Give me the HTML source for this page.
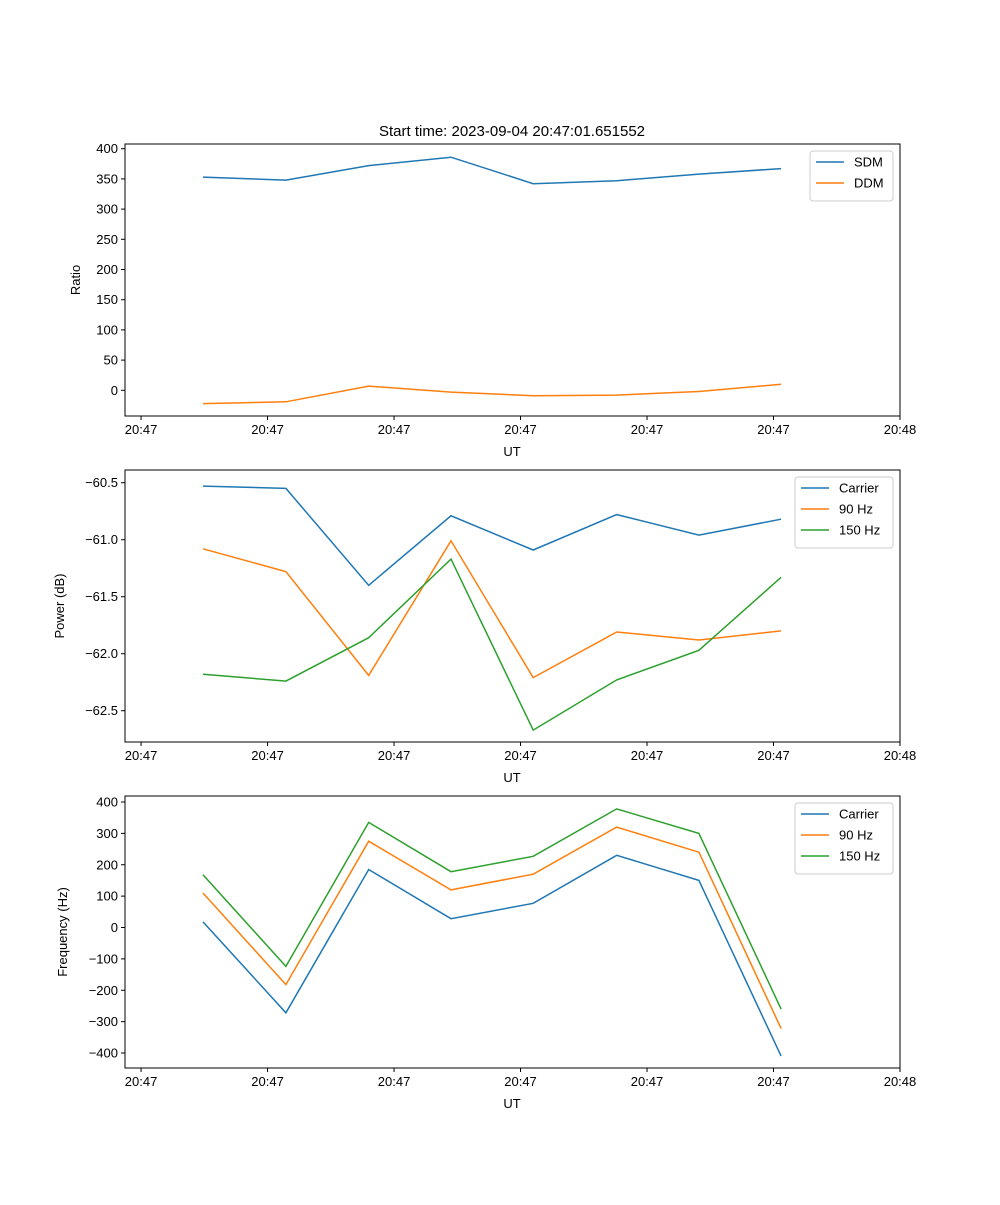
<!DOCTYPE html>
<html><head><meta charset="utf-8"><style>
body{margin:0;background:#fff;}
svg text{font-family:"Liberation Sans","DejaVu Sans",sans-serif;font-size:13px;fill:#000;}
</style></head><body>
<svg id="fig" width="1000" height="1200" xmlns="http://www.w3.org/2000/svg">
<rect width="1000" height="1200" fill="#fff"/>
<text x="512" y="136" text-anchor="middle" style="font-size:15px">Start time: 2023-09-04 20:47:01.651552</text>
</svg>
<script>
const times=[0.49,1.145,1.80,2.45,3.10,3.76,4.41,5.06];
const xTickVals=[0,1,2,3,4,5,6];
const xTickLabels=["20:47","20:47","20:47","20:47","20:47","20:47","20:48"];
const sdm=[353,348,372,386,342,347,358,367];
const ddm=[-22,-19,7,-3,-9,-8,-2,10];
const pCarrier=[-60.53,-60.55,-61.40,-60.79,-61.09,-60.78,-60.96,-60.82];
const p90=[-61.08,-61.28,-62.19,-61.01,-62.21,-61.81,-61.88,-61.80];
const p150=[-62.18,-62.24,-61.86,-61.17,-62.67,-62.23,-61.97,-61.33];
const fCarrier=[18,-272,185,28,77,230,150,-410];
const f90=[110,-182,275,120,170,320,240,-322];
const f150=[168,-124,335,178,227,378,300,-260];
const ratioTicks=[0,50,100,150,200,250,300,350,400];
const powerTicks=[-62.5,-62.0,-61.5,-61.0,-60.5];
const freqTicks=[-400,-300,-200,-100,0,100,200,300,400];

const NS="http://www.w3.org/2000/svg";
const svg=document.getElementById('fig');
const L=125,R=900,X0=-0.127,X1=6.0;
function xs(v){return L+(v-X0)/(X1-X0)*(R-L);}
function mk(tag,attrs,parent){const e=document.createElementNS(NS,tag);for(const k in attrs)e.setAttribute(k,attrs[k]);(parent||svg).appendChild(e);return e;}

function panel(name,top,bot,yv0,yp0,yv1,yp1,yTicks,fmt,ylabel,series,legend){
  const ys=v=>yp0+(v-yv0)/(yv1-yv0)*(yp1-yp0);
  const g=mk('g',{});
  
  
  series.forEach(s=>{
    const pts=s.data.map((v,i)=>xs(times[i]).toFixed(1)+','+ys(v).toFixed(1)).join(' ');
    const pl=mk('polyline',{points:pts,fill:'none',stroke:s.color,'stroke-width':1.5},g);
    
    
  });
  const fr=mk('rect',{x:L,y:top,width:R-L,height:bot-top,fill:'none',stroke:'#000','stroke-width':1},g);
  
  
  xTickVals.forEach((v,i)=>{
    const x=xs(v);
    mk('line',{x1:x,x2:x,y1:bot,y2:bot+4,stroke:'#000'},g);
    const t=mk('text',{x:x,y:bot+18,'text-anchor':'middle'},g);
    t.textContent=xTickLabels[i];
    
    
  });
  const xl=mk('text',{x:512,y:bot+40,'text-anchor':'middle'},g);
  xl.textContent='UT';
  
  
  yTicks.forEach(v=>{
    const y=ys(v);
    mk('line',{x1:L-4,x2:L,y1:y,y2:y,stroke:'#000'},g);
    const t=mk('text',{x:L-7,y:y+4.5,'text-anchor':'end'},g);
    t.textContent=fmt(v);
    
    
  });
  const cy=(top+bot)/2;
  const yl=mk('text',{x:0,y:0,'text-anchor':'middle',transform:`translate(${legend.yl},${cy}) rotate(-90)`},g);
  yl.textContent=ylabel;
  
  
  const lg=mk('g',{},g);
  
  
  const lh=8+series.length*21;
  mk('rect',{x:legend.x,y:top+7,width:R-7-legend.x,height:lh,rx:3,fill:'#fff',stroke:'#ccc'},lg);
  series.forEach((s,i)=>{
    const y=top+18+i*21;
    mk('line',{x1:legend.x+6,x2:legend.x+34,y1:y,y2:y,stroke:s.color,'stroke-width':1.5},lg);
    const t=mk('text',{x:legend.x+44,y:y+4.5},lg);
    t.textContent=s.label;
    
    
  });
}
const B='#1f77b4',O='#ff7f0e',G='#2ca02c';
panel('ratio',144,416,0,390.3,400,148.7,ratioTicks,v=>v<0?'\u2212'+(-v):String(v),'Ratio',
  [{key:'sdm',label:'SDM',color:B,data:sdm},{key:'ddm',label:'DDM',color:O,data:ddm}],{x:810,yl:80});
panel('power',470,742,-60.5,482.7,-62.5,710.7,powerTicks,v=>'\u2212'+(-v).toFixed(1),'Power (dB)',
  [{key:'carrier',label:'Carrier',color:B,data:pCarrier},{key:'90hz',label:'90 Hz',color:O,data:p90},{key:'150hz',label:'150 Hz',color:G,data:p150}],{x:795,yl:64});
panel('frequency',796,1068,400,802,-400,1053,freqTicks,v=>v<0?'\u2212'+(-v):String(v),'Frequency (Hz)',
  [{key:'carrier',label:'Carrier',color:B,data:fCarrier},{key:'90hz',label:'90 Hz',color:O,data:f90},{key:'150hz',label:'150 Hz',color:G,data:f150}],{x:795,yl:67});
</script>
</body></html>
